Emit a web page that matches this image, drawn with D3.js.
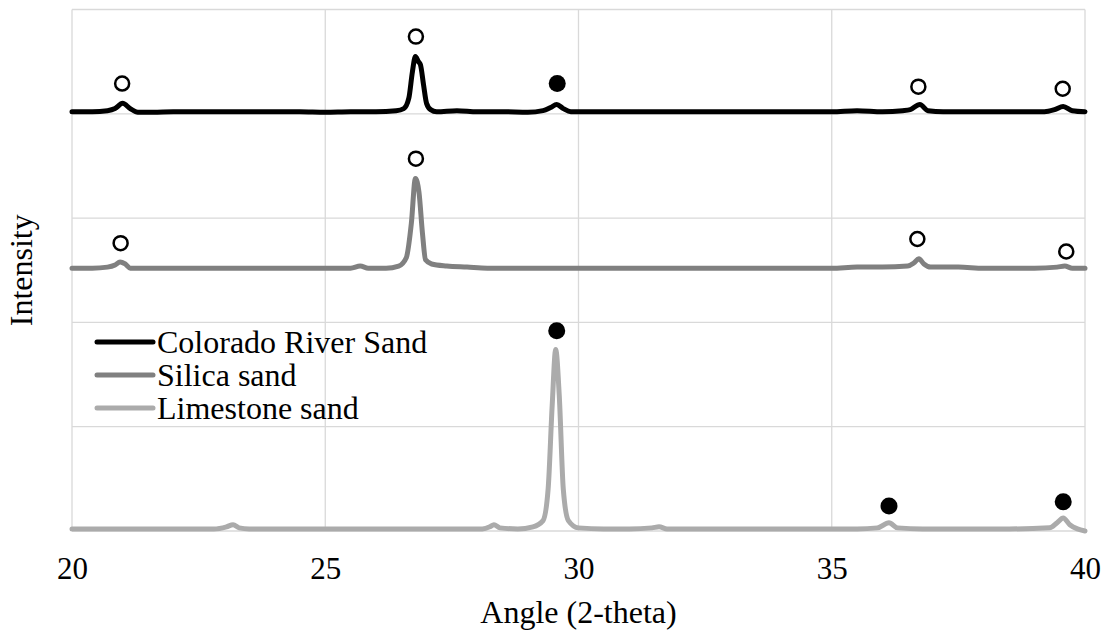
<!DOCTYPE html>
<html lang="en">
<head>
    <meta charset="UTF-8">
    <title>XRD patterns</title>
    <script src="https://d3js.org/d3.v7.min.js"></script>
    <style>
        body {margin: 0; background: #fff;}
        text {
            font-family: "Liberation Serif", "Times New Roman", serif;
            fill: #000;
        }
    </style>
</head>
<body>
<script>
    // angle (2-theta) vs. intensity, curves stacked with an offset (arbitrary units)
    const coloradoSand = [
        [20.0,4.02],[20.4,4.02],[20.7,4.03],[20.85,4.05],[21.0,4.10],[21.15,4.05],[21.3,4.015],[21.6,4.015],
        [22.0,4.02],[22.5,4.02],[23.0,4.02],[23.5,4.02],[24.0,4.02],[24.5,4.02],[25.0,4.015],[25.5,4.02],
        [26.0,4.02],[26.4,4.03],[26.55,4.05],[26.65,4.15],[26.72,4.40],[26.78,4.55],[26.84,4.50],[26.88,4.47],
        [26.94,4.28],[27.0,4.10],[27.08,4.04],[27.2,4.02],[27.6,4.03],[28.0,4.02],[28.5,4.02],[29.0,4.015],
        [29.3,4.03],[29.45,4.06],[29.57,4.09],[29.7,4.05],[29.85,4.02],[30.2,4.02],[30.8,4.02],[31.5,4.02],
        [32.0,4.02],[33.0,4.02],[34.0,4.02],[35.0,4.02],[35.5,4.03],[36.0,4.02],[36.4,4.03],[36.55,4.04],
        [36.74,4.09],[36.9,4.03],[37.2,4.02],[38.0,4.02],[38.5,4.02],[39.2,4.02],[39.4,4.04],[39.57,4.07],
        [39.75,4.03],[40.0,4.02]
    ];
    const silicaSand = [
        [20.0,2.52],[20.4,2.52],[20.7,2.53],[20.85,2.55],[20.95,2.58],[21.05,2.56],[21.15,2.52],[21.5,2.52],
        [22.0,2.52],[23.0,2.52],[24.0,2.52],[25.0,2.52],[25.5,2.52],[25.69,2.54],[25.85,2.52],[26.2,2.52],
        [26.45,2.54],[26.6,2.62],[26.7,2.95],[26.78,3.38],[26.85,3.25],[26.92,2.85],[26.98,2.60],[27.1,2.56],
        [27.4,2.54],[27.8,2.53],[28.2,2.52],[29.0,2.52],[30.0,2.52],[31.0,2.52],[32.0,2.52],[33.0,2.52],
        [34.0,2.52],[35.0,2.52],[35.5,2.53],[36.0,2.53],[36.5,2.54],[36.62,2.57],[36.72,2.61],[36.82,2.56],
        [36.95,2.53],[37.5,2.53],[38.0,2.52],[39.0,2.52],[39.45,2.53],[39.6,2.54],[39.75,2.52],[40.0,2.52]
    ];
    const limestoneSand = [
        [20.0,0.02],[21.0,0.02],[22.0,0.02],[22.8,0.02],[23.05,0.04],[23.18,0.06],[23.3,0.03],[23.5,0.02],
        [24.5,0.02],[25.5,0.02],[26.5,0.02],[27.5,0.02],[28.1,0.02],[28.25,0.04],[28.33,0.06],[28.45,0.03],
        [28.8,0.02],[29.1,0.04],[29.3,0.10],[29.4,0.40],[29.48,1.20],[29.55,1.74],[29.62,1.30],[29.7,0.40],
        [29.8,0.10],[30.0,0.03],[30.5,0.02],[31.0,0.02],[31.45,0.03],[31.59,0.04],[31.75,0.02],[32.5,0.02],
        [33.5,0.02],[34.5,0.02],[35.5,0.02],[35.9,0.03],[36.13,0.08],[36.3,0.03],[36.8,0.02],[37.5,0.02],
        [38.5,0.02],[39.3,0.03],[39.45,0.08],[39.57,0.125],[39.7,0.06],[39.85,0.02],[40.0,0.0]
    ];

    // peak labels: [angle, level, phase]  q = quartz (open), c = calcite (filled)
    const coloradoPeaks  = [[20.99,4.29,"q"],[26.79,4.74,"q"],[29.58,4.29,"c"],[36.71,4.26,"q"],[39.56,4.24,"q"]];
    const silicaPeaks    = [[20.96,2.76,"q"],[26.79,3.57,"q"],[36.69,2.80,"q"],[39.63,2.68,"q"]];
    const limestonePeaks = [[29.57,1.92,"c"],[36.13,0.24,"c"],[39.57,0.28,"c"]];

    const seriesNames = ["Colorado River Sand", "Silica sand", "Limestone sand"];
    const xTicks = [20, 25, 30, 35, 40];
    const yTicks = [0, 1, 2, 3, 4, 5];

    const width = 1107;
    const height = 633;
    const colors = ["#000000", "#808080", "#ababab"];

    const svg = d3.select("body").append("svg")
            .attr("width", width).attr("height", height);

    const x = d3.scaleLinear().domain([20, 40]).range([72, 1085]);
    const y = d3.scaleLinear().domain([0, 5]).range([531, 9.5]);

    // gridlines
    svg.append("g").selectAll("line.vgrid")
            .data(xTicks)
            .enter().append("line")
            .attr("class", "vgrid")
            .attr("x1", d => x(d)).attr("x2", d => x(d))
            .attr("y1", y(5)).attr("y2", y(0))
            .style("stroke", "#d9d9d9")
            .style("stroke-width", 1.3);

    svg.append("g").selectAll("line.hgrid")
            .data(yTicks)
            .enter().append("line")
            .attr("class", "hgrid")
            .attr("x1", x(20)).attr("x2", x(40))
            .attr("y1", d => y(d)).attr("y2", d => y(d))
            .style("stroke", "#d9d9d9")
            .style("stroke-width", 1.3);

    // x axis labels
    const xAxis = svg.append("g")
            .attr("transform", `translate(0,${y(0)})`)
            .call(d3.axisBottom(x).tickValues(xTicks).tickSize(0).tickPadding(0));
    xAxis.attr("font-family", null).attr("font-size", null);
    xAxis.select(".domain").remove();
    xAxis.selectAll("text")
            .attr("dy", null)
            .attr("y", 48)
            .style("font-size", "31px");

    svg.append("text")
            .attr("x", (x(20) + x(40)) / 2)
            .attr("y", 623)
            .attr("text-anchor", "middle")
            .style("font-size", "32px")
            .text("Angle (2-theta)");

    svg.append("text")
            .attr("transform", `translate(32,${(y(0) + y(5)) / 2}) rotate(-90)`)
            .attr("text-anchor", "middle")
            .style("font-size", "32px")
            .text("Intensity");

    // curves
    const line = d3.line()
            .x(d => x(d[0]))
            .y(d => y(d[1]))
            .curve(d3.curveMonotoneX);

    const allSeries = [coloradoSand, silicaSand, limestoneSand];
    allSeries.slice().reverse().forEach((s, i) => {
        const idx = allSeries.length - 1 - i;
        svg.append("path")
                .datum(s)
                .attr("d", line)
                .style("fill", "none")
                .style("stroke", colors[idx])
                .style("stroke-width", 5)
                .style("stroke-linejoin", "round")
                .style("stroke-linecap", "round");
    });

    // peak markers
    const peaks = coloradoPeaks.concat(silicaPeaks, limestonePeaks);
    svg.selectAll("circle.peak")
            .data(peaks)
            .enter().append("circle")
            .attr("class", "peak")
            .attr("cx", d => x(d[0]))
            .attr("cy", d => y(d[1]))
            .attr("r", d => d[2] === "c" ? 8.5 : 7)
            .style("fill", d => d[2] === "c" ? "#000" : "#fff")
            .style("stroke", "#000")
            .style("stroke-width", d => d[2] === "c" ? 0 : 2.5);

    // legend
    const legend = svg.append("g").selectAll("g.legend")
            .data(seriesNames)
            .enter().append("g")
            .attr("class", "legend")
            .attr("transform", (d, i) => `translate(97,${342 + i * 33})`);

    legend.append("line")
            .attr("x1", 0).attr("x2", 56)
            .style("stroke", (d, i) => colors[i])
            .style("stroke-width", 5)
            .style("stroke-linecap", "round");

    legend.append("text")
            .attr("x", 60)
            .attr("y", 10.5)
            .style("font-size", "32px")
            .text(d => d);
</script>
</body>
</html>
